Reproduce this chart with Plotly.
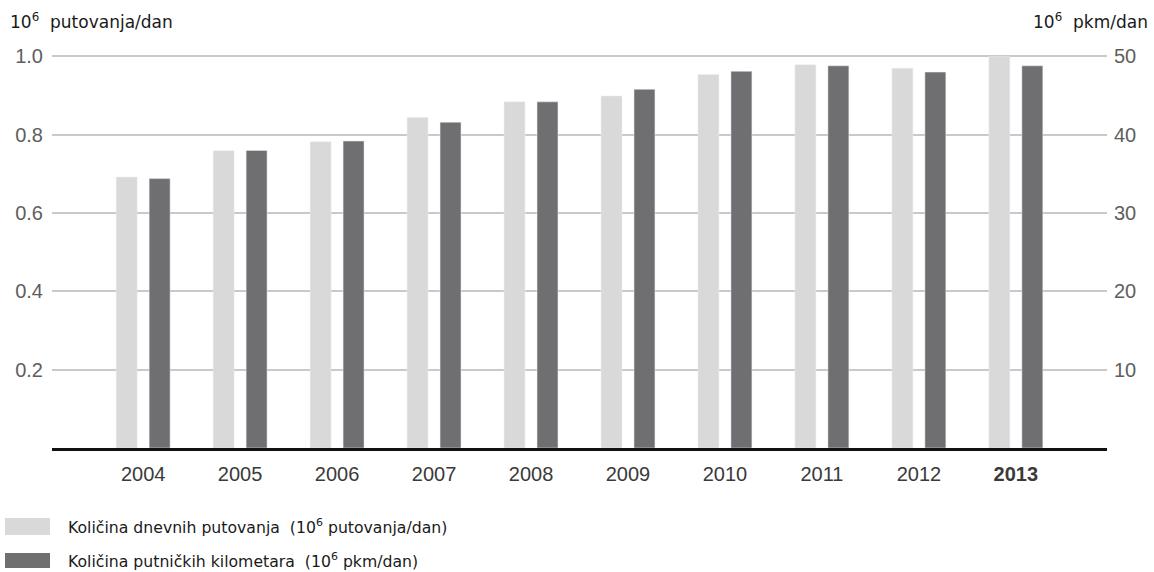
import plotly.graph_objects as go

years = ["2004", "2005", "2006", "2007", "2008", "2009", "2010", "2011", "2012", "2013"]
trips = [0.692, 0.759, 0.782, 0.844, 0.884, 0.899, 0.954, 0.979, 0.970, 1.000]   # 10^6 putovanja/dan
pkm = [34.4, 38.0, 39.2, 41.6, 44.2, 45.8, 48.1, 48.8, 48.0, 48.8]               # 10^6 pkm/dan

left_ticks = [0.2, 0.4, 0.6, 0.8, 1.0]
left_labels = ["0.2", "0.4", "0.6", "0.8", "1.0"]
right_ticks = [10, 20, 30, 40, 50]
right_labels = ["10", "20", "30", "40", "50"]
x_labels = years[:-1] + ["<b>2013</b>"]

name_trips = "Količina dnevnih putovanja  (10<sup>6</sup> putovanja/dan)"
name_pkm = "Količina putničkih kilometara  (10<sup>6</sup> pkm/dan)"

LIGHT = "#d9d9da"
DARK = "#6f6f71"
TICK_FONT = dict(family="Liberation Sans, Arial, sans-serif", size=20, color="#5e5e5e")
HEAD_FONT = dict(family="DejaVu Sans, Verdana, sans-serif", size=17, color="#1a1a1a")
LEG_FONT = dict(family="DejaVu Sans, Verdana, sans-serif", size=15.7, color="#1a1a1a")

fig = go.Figure()
fig.add_trace(go.Bar(x=years, y=trips, name=name_trips, marker_color=LIGHT,
                     width=0.216, offset=-0.278, yaxis="y", showlegend=False))
fig.add_trace(go.Bar(x=years, y=pkm, name=name_pkm, marker_color=DARK,
                     width=0.216, offset=0.062, yaxis="y2", showlegend=False))

fig.update_layout(
    width=1154, height=572,
    margin=dict(l=52, r=47, t=40, b=124),
    plot_bgcolor="white", paper_bgcolor="white",
    barmode="overlay",
    xaxis=dict(type="category", range=[-0.94, 9.94], tickvals=years, ticktext=x_labels,
               showgrid=False, showline=True, linecolor="#111111", linewidth=3,
               ticks="", tickfont=dict(family="Liberation Sans, Arial, sans-serif", size=20, color="#3a3a3a"),
               ticklabelstandoff=6),
    yaxis=dict(range=[0, 1.042], tickvals=left_ticks, ticktext=left_labels,
               showgrid=True, gridcolor="#c9c9c9", gridwidth=1.5, zeroline=False,
               ticks="", tickfont=TICK_FONT, ticklabelstandoff=8),
    yaxis2=dict(range=[0, 52.1], overlaying="y", side="right", tickvals=right_ticks,
                ticktext=right_labels, showgrid=False, zeroline=False, ticks="",
                tickfont=TICK_FONT, ticklabelstandoff=6),
)

# axis unit headers
fig.add_annotation(text="10<sup>6</sup>  putovanja/dan", xref="paper", yref="paper",
                   x=-0.042, y=1.0, xanchor="left", yanchor="bottom", yshift=6,
                   showarrow=False, font=HEAD_FONT)
fig.add_annotation(text="10<sup>6</sup>  pkm/dan", xref="paper", yref="paper",
                   x=1.041, y=1.0, xanchor="right", yanchor="bottom", yshift=6,
                   showarrow=False, font=HEAD_FONT)

# custom legend
legend_items = [(name_trips, LIGHT, 518, 535), (name_pkm, DARK, 553, 568)]
pw = 1154 - 52 - 47
ph = 572 - 40 - 124
for text, col, y0px, y1px in legend_items:
    y0 = (572 - 124 - y0px) / ph
    y1 = (572 - 124 - y1px) / ph
    fig.add_shape(type="rect", xref="paper", yref="paper",
                  x0=(5 - 52) / pw, x1=(50 - 52) / pw, y0=y1, y1=y0,
                  fillcolor=col, line_width=0)
    fig.add_annotation(text=text, xref="paper", yref="paper",
                       x=(66 - 52) / pw, y=(y0 + y1) / 2, xanchor="left", yanchor="middle",
                       showarrow=False, font=LEG_FONT)

fig.write_html("out.html", config={"displayModeBar": False},
               post_script="document.body.style.margin='0px';document.body.style.overflow='hidden';")
